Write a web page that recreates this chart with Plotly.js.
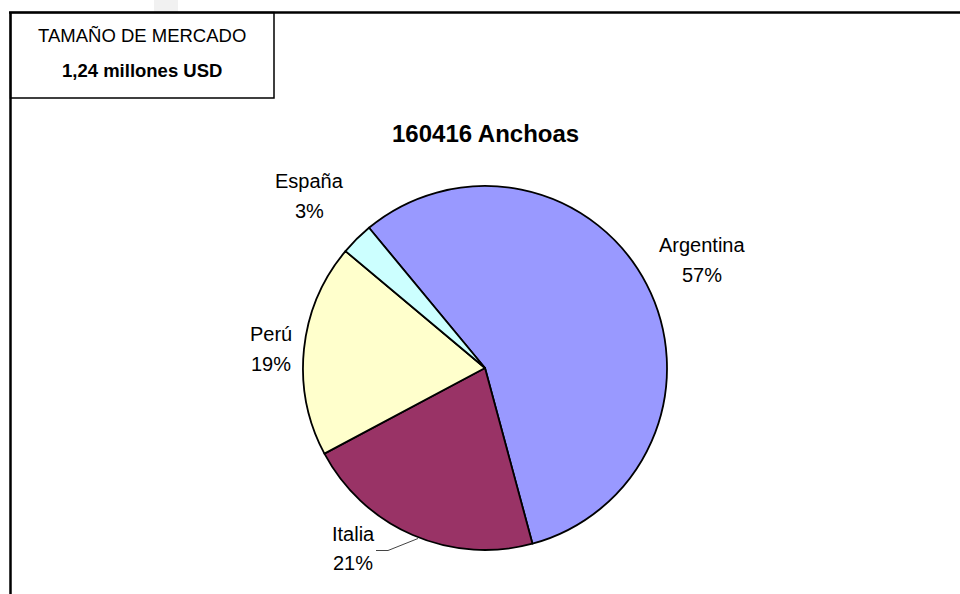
<!DOCTYPE html>
<html>
<head>
<meta charset="utf-8">
<script src="https://cdn.plot.ly/plotly-3.0.1.min.js"></script>
<style>
  html, body { margin: 0; padding: 0; background: #ffffff; }
  #chart { width: 960px; height: 594px; }
</style>
</head>
<body>
<div id="chart"></div>
<script>
// ---- data ----
const countries = ['Argentina', 'Italia', 'Perú', 'España'];
const shares = [56.8, 21.4, 18.9, 2.9];
const chartTitle = '160416 Anchoas';
const boxTitle = 'TAMAÑO DE MERCADO';
const boxValue = '1,24 millones USD';

// ---- style ----
const sliceColors = ['#9999ff', '#993366', '#ffffcc', '#ccffff'];
// label block centres in pixels [x, yName, yPct]
const labelPos = [
  [702, 245, 275],
  [353, 534, 563],
  [271, 334, 364],
  [309, 181, 211]
];
const W = 960, H = 594;
const px = x => x / W;
const py = y => 1 - y / H;
const FONT = 'Liberation Sans, Arial, Helvetica, sans-serif';

const total = shares.reduce((a, b) => a + b, 0);

const trace = {
  type: 'pie',
  labels: countries,
  values: shares,
  sort: false,
  direction: 'clockwise',
  rotation: -39.6,
  textinfo: 'none',
  hoverinfo: 'label+percent',
  showlegend: false,
  marker: { colors: sliceColors, line: { color: '#000000', width: 1.8 } },
  domain: { x: [px(303), px(667)], y: [py(550), py(186)] }
};

const annotations = [];
countries.forEach((c, i) => {
  const pct = Math.round(shares[i] / total * 100) + '%';
  annotations.push({ xref: 'paper', yref: 'paper', x: px(labelPos[i][0]), y: py(labelPos[i][1]),
    xanchor: 'center', yanchor: 'middle', showarrow: false, text: c,
    font: { family: FONT, size: 20, color: '#000000' } });
  annotations.push({ xref: 'paper', yref: 'paper', x: px(labelPos[i][0]), y: py(labelPos[i][2]),
    xanchor: 'center', yanchor: 'middle', showarrow: false, text: pct,
    font: { family: FONT, size: 20, color: '#000000' } });
});
annotations.push({ xref: 'paper', yref: 'paper', x: px(485), y: py(134), xanchor: 'center', yanchor: 'middle',
  showarrow: false, text: '<b>' + chartTitle + '</b>', font: { family: FONT, size: 24, color: '#000000' } });
annotations.push({ xref: 'paper', yref: 'paper', x: px(142), y: py(35), xanchor: 'center', yanchor: 'middle',
  showarrow: false, text: boxTitle, font: { family: FONT, size: 18.5, color: '#000000' } });
annotations.push({ xref: 'paper', yref: 'paper', x: px(142), y: py(71), xanchor: 'center', yanchor: 'middle',
  showarrow: false, text: '<b>' + boxValue + '</b>', font: { family: FONT, size: 18.5, color: '#000000' } });

const shapes = [
  { type: 'rect', xref: 'paper', yref: 'paper', x0: px(154), x1: px(178), y0: py(0), y1: py(12),
    fillcolor: '#f1f1f1', line: { width: 0 } },
  { type: 'line', xref: 'paper', yref: 'paper', x0: px(9), x1: px(960), y0: py(12.5), y1: py(12.5),
    line: { color: '#000000', width: 2.5 } },
  { type: 'line', xref: 'paper', yref: 'paper', x0: px(10.5), x1: px(10.5), y0: py(12), y1: py(594),
    line: { color: '#000000', width: 2.5 } },
  { type: 'rect', xref: 'paper', yref: 'paper', x0: px(10.5), x1: px(274), y0: py(12.5), y1: py(98),
    line: { color: '#000000', width: 1.5 } },
  { type: 'path', xref: 'paper', yref: 'paper',
    path: 'M' + px(376) + ',' + py(550.5) + ' L' + px(388) + ',' + py(550.5) + ' L' + px(418) + ',' + py(538.5),
    line: { color: '#444444', width: 1 } }
];

const layout = {
  width: W, height: H,
  margin: { l: 0, r: 0, t: 0, b: 0 },
  paper_bgcolor: '#ffffff',
  plot_bgcolor: '#ffffff',
  font: { family: FONT, color: '#000000' },
  showlegend: false,
  annotations: annotations,
  shapes: shapes
};

Plotly.newPlot('chart', [trace], layout, { displayModeBar: false, staticPlot: true });
</script>
</body>
</html>
